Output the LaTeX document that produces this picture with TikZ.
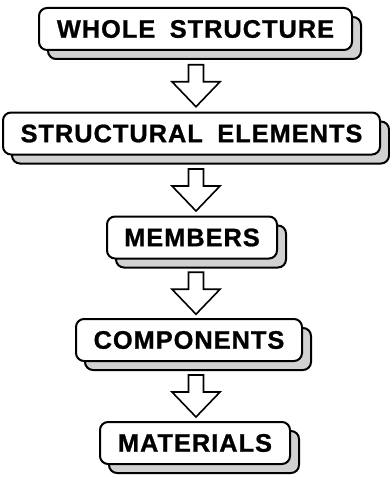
\documentclass[tikz,border=0pt]{standalone}
\usepackage{fontspec}
\newfontfamily\stagefont{Liberation Sans}[LetterSpace=4,WordSpace=1.8,BoldFeatures={FakeBold=1}]
\usetikzlibrary{calc,shadows}
\begin{document}
\begin{tikzpicture}[x=0.75pt,y=-0.75pt,
	stage/.style={draw, line width=1.5pt, rounded corners=6pt, fill=white,
		minimum height=31.5pt, inner sep=0pt,
		font=\stagefont\bfseries\fontsize{19}{21}\selectfont,
		copy shadow={shadow xshift=6.75pt, shadow yshift=-6.75pt, fill=black!18, draw=black, line width=1.5pt}},
	flow/.style={draw, line width=1.2pt, fill=white, line join=miter}]
		\useasboundingbox (0,0) rectangle (389,478);
		% Levels
		\node[stage, minimum width=234.75pt] (whole) at (195.5,29) {WHOLE STRUCTURE};
		\node[stage, minimum width=282.75pt] (elements) at (191.5,133.5) {STRUCTURAL ELEMENTS};
		\node[stage, minimum width=127.5pt] (members) at (192,237.5) {MEMBERS};
		\node[stage, minimum width=169.5pt] (components) at (189,340) {COMPONENTS};
		\node[stage, minimum width=142.5pt] (materials) at (195,443) {MATERIALS};
		% Arrows
		\coordinate (axis) at (196,0);
		\foreach \a/\b [count=\i] in {whole/elements,elements/members,members/components,components/materials}{
		\coordinate (mid\i) at ($(\a.south)!0.5!(\b.north)+(0,4.5)$);
		\coordinate (arr\i) at (axis |- mid\i);
		\draw[flow] (arr\i) ++(-7.5,-21) -- ++(15,0) -- ++(0,17) -- ++(16.5,0) -- ++(-24,25) -- ++(-24,-25) -- ++(16.5,0) -- cycle;
		}
	\end{tikzpicture}
\end{document}
